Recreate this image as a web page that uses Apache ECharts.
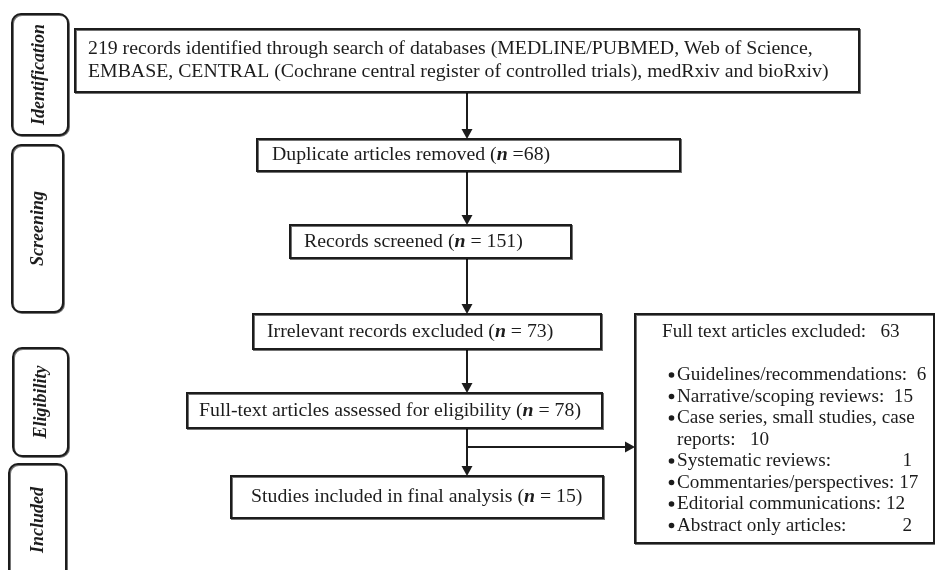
<!DOCTYPE html>
<html><head><meta charset="utf-8">
<script src="https://cdn.jsdelivr.net/npm/echarts@6/dist/echarts.min.js"></script>
<style>html,body{margin:0;padding:0;background:#fff}#c{width:935px;height:570px}</style>
</head><body><div id="c"></div>
<script>
// ---- data ----
const stageNames = ['Identification', 'Screening', 'Eligibility', 'Included'];
const flowSteps = [
  'records identified through search of databases (MEDLINE/PUBMED, Web of Science,\nEMBASE, CENTRAL (Cochrane central register of controlled trials), medRxiv and bioRxiv)',
  'Duplicate articles removed',
  'Records screened',
  'Irrelevant records excluded',
  'Full-text articles assessed for eligibility',
  'Studies included in final analysis'
];
const flowCounts = [219, 68, 151, 73, 78, 15];
const excludedTitle = 'Full text articles excluded:';
const excludedTotal = 63;
const excludedReasons = [
  'Guidelines/recommendations:',
  'Narrative/scoping reviews:',
  'Case series, small studies, case\nreports:',
  'Systematic reviews:',
  'Commentaries/perspectives:',
  'Editorial communications:',
  'Abstract only articles:'
];
const excludedCounts = [6, 15, 10, 1, 17, 12, 2];

// ---- layout (canvas units, mapped through hidden value axes) ----
const W = 935, H = 570;
const stageRects = [[12, 14, 68, 135], [12, 145, 63, 312], [13, 348, 68, 456], [9, 464, 66, 584]];
const stageTextX = [39, 38, 41, 38];
const stepRects = [[75, 29, 859, 92], [257, 139, 680, 171], [290, 225, 571, 258], [253, 314, 601, 349], [187, 393, 602, 428], [231, 476, 603, 518]];
const stepTextX = [88, 272, 304, 267, 199, 251];
const stepSep = ['', ' =', ' = ', ' = ', ' = ', ' = '];
const sideRect = [635, 314, 934, 543];
const sideTitleX = 662, sideTitleY = 332, sideTitleGap = '   ';
const bulletX = 671.5, bulletTextX = 677, bulletY0 = 375, lineGap = 21.5;
const countGap = [2, 2, 3, null, 1, 1, null];
const countColX = 912;
const spineX = 467, branchY = 447;

const FONT = '"Liberation Serif", "Times New Roman", serif';
const FS_MAIN = 19.8, FS_SIDE = 19.2;
const INK = '#1c1c1c';
const boxStyle = { fill: '#fff', stroke: INK, lineWidth: 2, shadowColor: 'rgba(0,0,0,0.55)', shadowOffsetX: 1, shadowOffsetY: 1, shadowBlur: 0 };

function px(api, r) {
  const a = api.coord([r[0], r[1]]), b = api.coord([r[2], r[3]]);
  return { x: a[0], y: a[1], width: b[0] - a[0], height: b[1] - a[1] };
}

// stage labels
const stageSeries = {
  type: 'custom', coordinateSystem: 'cartesian2d', silent: true, clip: false,
  data: stageNames.map((n, i) => [i]),
  renderItem(params, api) {
    const i = api.value(0);
    const r = px(api, stageRects[i]);
    const c = api.coord([stageTextX[i], (stageRects[i][1] + Math.min(stageRects[i][3], H + 6)) / 2]);
    return { type: 'group', children: [
      { type: 'rect', shape: { x: r.x, y: r.y, width: r.width, height: r.height, r: 9 }, style: boxStyle },
      { type: 'text', x: c[0], y: c[1], rotation: Math.PI / 2,
        style: { text: stageNames[i], fontFamily: FONT, fontSize: 18, fontStyle: 'italic', fontWeight: 'bold',
          fill: INK, align: 'center', verticalAlign: 'middle' } }
    ] };
  }
};

// flow step boxes
const stepSeries = {
  type: 'custom', coordinateSystem: 'cartesian2d', silent: true, clip: false,
  data: flowSteps.map((s, i) => [i, flowCounts[i]]),
  renderItem(params, api) {
    const i = api.value(0);
    const r = px(api, stepRects[i]);
    const tp = api.coord([stepTextX[i], (stepRects[i][1] + stepRects[i][3]) / 2]);
    const txt = i === 0 ? flowCounts[0] + ' ' + flowSteps[0]
      : flowSteps[i] + ' ({n|n}' + stepSep[i] + flowCounts[i] + ')';
    return { type: 'group', children: [
      { type: 'rect', shape: r, style: boxStyle },
      { type: 'text', x: tp[0], y: tp[1],
        style: { text: txt, fontFamily: FONT, fontSize: FS_MAIN, fill: INK, lineHeight: 23,
          align: 'left', verticalAlign: 'middle',
          rich: { n: { fontFamily: FONT, fontSize: FS_MAIN, fontStyle: 'italic', fontWeight: 'bold', fill: INK } } } }
    ] };
  }
};

// exclusion box
const sideSeries = {
  type: 'custom', coordinateSystem: 'cartesian2d', silent: true, clip: false,
  data: [[0]],
  renderItem(params, api) {
    const r = px(api, sideRect);
    const kids = [{ type: 'rect', shape: r, style: boxStyle }];
    const t = api.coord([sideTitleX, sideTitleY]);
    kids.push({ type: 'text', x: t[0], y: t[1], style: { text: excludedTitle + sideTitleGap + excludedTotal,
      fontFamily: FONT, fontSize: FS_SIDE, fill: INK, align: 'left', verticalAlign: 'middle' } });
    let line = 0;
    excludedReasons.forEach((lab, k) => {
      const y = bulletY0 + line * lineGap;
      const b = api.coord([bulletX, y]);
      const p = api.coord([bulletTextX, y]);
      kids.push({ type: 'circle', shape: { cx: b[0], cy: b[1], r: 2.8 }, style: { fill: INK } });
      const parts = lab.split('\n');
      let txt = lab;
      if (countGap[k] !== null) txt = lab + ' '.repeat(countGap[k]) + excludedCounts[k];
      kids.push({ type: 'text', x: p[0], y: p[1], style: { text: txt, fontFamily: FONT, fontSize: FS_SIDE, fill: INK,
        lineHeight: lineGap, align: 'left', verticalAlign: 'top', padding: [-lineGap / 2, 0, 0, 0] } });
      if (countGap[k] === null) {
        const cpos = api.coord([countColX, y]);
        kids.push({ type: 'text', x: cpos[0], y: cpos[1], style: { text: String(excludedCounts[k]), fontFamily: FONT,
          fontSize: FS_SIDE, fill: INK, align: 'right', verticalAlign: 'middle' } });
      }
      line += parts.length;
    });
    return { type: 'group', children: kids };
  }
};

// arrows
const edges = [];
for (let i = 0; i < flowSteps.length - 1; i++) edges.push([spineX, stepRects[i][3], spineX, stepRects[i + 1][1]]);
edges.push([spineX, branchY, sideRect[0], branchY]);
const arrowSeries = {
  type: 'custom', coordinateSystem: 'cartesian2d', silent: true, clip: false, z: 1,
  data: edges,
  renderItem(params, api) {
    const a = api.coord([api.value(0), api.value(1)]);
    const b = api.coord([api.value(2), api.value(3)]);
    const dx = b[0] - a[0], dy = b[1] - a[1];
    const len = Math.sqrt(dx * dx + dy * dy), ux = dx / len, uy = dy / len;
    const hl = 10, hw = 5.5;
    const base = [b[0] - ux * hl, b[1] - uy * hl];
    return { type: 'group', children: [
      { type: 'line', shape: { x1: a[0], y1: a[1], x2: base[0], y2: base[1] }, style: { stroke: INK, lineWidth: 2 } },
      { type: 'polygon', shape: { points: [[b[0], b[1]], [base[0] - uy * hw, base[1] + ux * hw], [base[0] + uy * hw, base[1] - ux * hw]] },
        style: { fill: INK } }
    ] };
  }
};

const chart = echarts.init(document.getElementById('c'));
chart.setOption({
  animation: false,
  backgroundColor: '#fff',
  grid: { left: 0, right: 0, top: 0, bottom: 0 },
  xAxis: { type: 'value', min: 0, max: W, show: false },
  yAxis: { type: 'value', min: 0, max: H, inverse: true, show: false },
  series: [arrowSeries, stageSeries, stepSeries, sideSeries]
});
</script></body></html>
